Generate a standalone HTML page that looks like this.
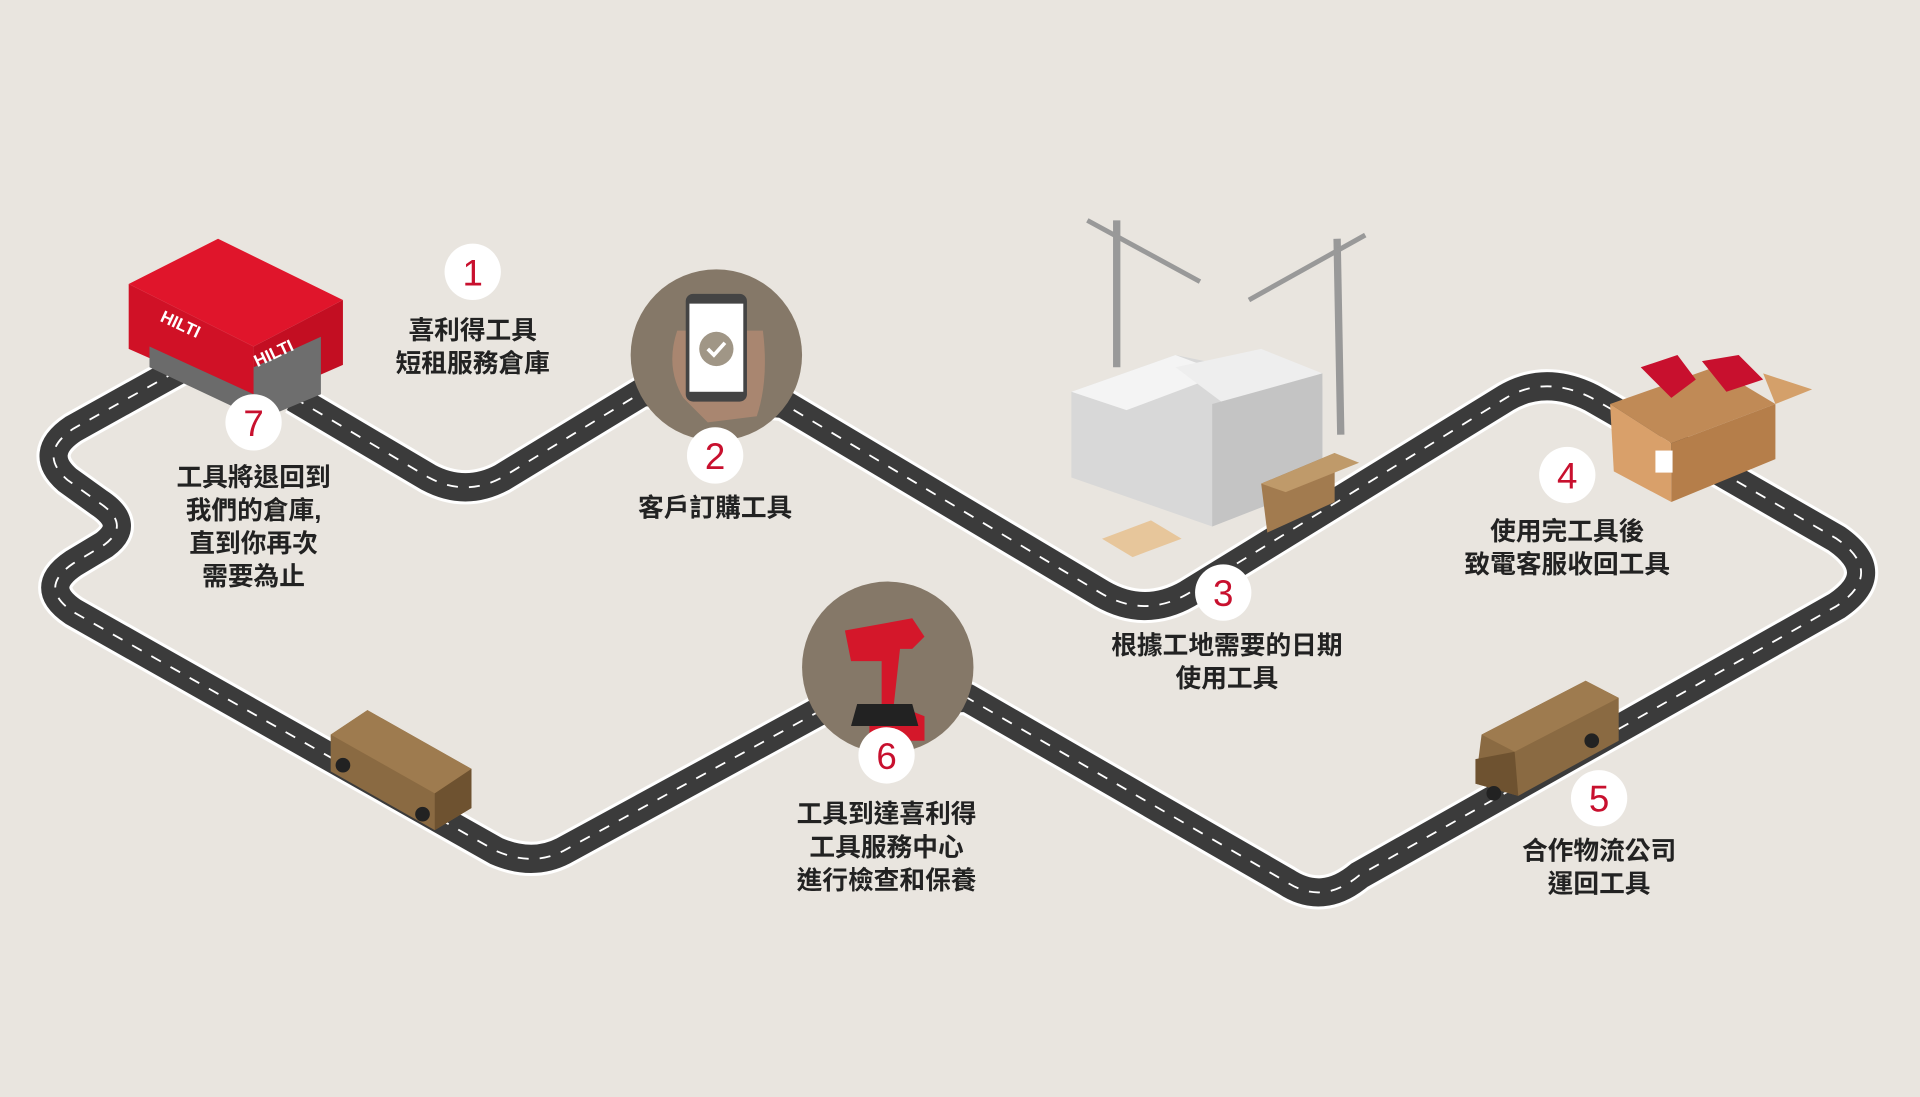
<!DOCTYPE html>
<html><head><meta charset="utf-8"><style>
html,body{margin:0;padding:0;background:#e9e5df;}
svg{display:block}
text{font-family:"Liberation Sans","Noto Sans CJK TC",sans-serif;}
.l{font-size:21px;font-weight:bold;fill:#222;text-anchor:middle}
.n{font-size:30px;fill:#c8102e;text-anchor:middle}
</style></head><body>
<svg width="1920" height="1097" viewBox="0 0 1568 896" xmlns="http://www.w3.org/2000/svg">
<rect width="1568" height="896" fill="#e9e5df"/>
<defs>
<path id="road" d="M240 325 L350 390 Q380 406 410 390 L525 320 L640 330 L900 485 Q935 505 970 485 L1230 325 Q1262 306 1300 325 L1500 440 Q1540 468 1500 495 L1110 715 Q1080 740 1050 720 L790 570 L680 575 L460 695 Q435 708 405 695 L60 500 Q30 480 60 460 L85 445 Q108 428 80 410 L55 392 Q30 370 60 350 L150 300"/>
</defs>
<use href="#road" fill="none" stroke="#fff" stroke-width="28" stroke-linejoin="round"/>
<use href="#road" fill="none" stroke="#3b3b3b" stroke-width="23" stroke-linejoin="round"/>
<use href="#road" fill="none" stroke="#fff" stroke-width="1.5" stroke-dasharray="9 9"/>

<!-- warehouse -->
<polygon points="105,232 178,195 280,245 207,283" fill="#e0152b"/>
<polygon points="105,232 207,283 207,330 105,285" fill="#d01126"/>
<polygon points="207,283 280,245 280,298 207,330" fill="#c30e22"/>
<polygon points="122,283 207,322 207,340 122,300" fill="#6b6b6b"/>
<polygon points="207,300 262,275 262,322 207,345" fill="#6e6e6e"/>
<text x="130" y="262" font-size="14" font-weight="bold" fill="#fff" transform="rotate(25 130 262)">HILTI</text>
<text x="210" y="300" font-size="14" font-weight="bold" fill="#fff" transform="rotate(-25 210 300)">HILTI</text>

<!-- circle 2 -->
<circle cx="585" cy="290" r="70" fill="#857868"/>
<path d="M553 270 q-10 30 5 55 l20 20 l40 -5 q10 -30 5 -70" fill="#a98670"/>
<rect x="560" y="240" width="50" height="88" rx="6" fill="#444"/>
<rect x="563" y="248" width="44" height="72" fill="#fff"/>
<circle cx="585" cy="285" r="14" fill="#a09686"/>
<path d="M578 285 l5 5 l9 -10" stroke="#fff" stroke-width="3" fill="none"/>

<!-- circle 6 -->
<circle cx="725" cy="545" r="70" fill="#857868"/>
<path d="M690 515 l55 -10 l10 15 l-10 10 l-10 0 l-5 45 l25 10 l0 20 l-45 0 l0 -20 l10 -5 l0 -40 l-25 0z" fill="#d4172a"/>
<path d="M700 575 l45 0 l5 18 l-55 0z" fill="#222"/>

<!-- construction -->
<polygon points="875,320 960,290 1080,315 1080,395 990,430 875,390" fill="#d8d8d8"/>
<polygon points="875,320 960,290 1000,305 920,335" fill="#f4f4f4"/>
<polygon points="960,300 1030,285 1080,305 1000,330" fill="#eeeeee"/>
<polygon points="990,330 1080,305 1080,395 990,430" fill="#c4c4c4"/>
<line x1="912" y1="180" x2="912" y2="300" stroke="#999" stroke-width="6"/>
<line x1="888" y1="180" x2="980" y2="230" stroke="#999" stroke-width="4"/>
<line x1="1092" y1="195" x2="1095" y2="355" stroke="#999" stroke-width="6"/>
<line x1="1020" y1="245" x2="1115" y2="192" stroke="#999" stroke-width="4"/>
<polygon points="1030,395 1090,370 1090,410 1035,435" fill="#a27b4f"/>
<polygon points="1030,395 1090,370 1110,378 1050,402" fill="#bf9a6a"/>
<polygon points="900,440 940,425 965,440 925,455" fill="#e7c69b"/>

<!-- box 4 -->
<polygon points="1315,330 1400,300 1450,330 1365,362" fill="#c08a56"/>
<polygon points="1315,330 1365,362 1365,410 1318,385" fill="#d9a06a"/>
<polygon points="1365,362 1450,330 1450,375 1365,410" fill="#b57e4a"/>
<path d="M1340 300 l30 -10 l15 20 l-20 15z M1390 295 l30 -5 l20 20 l-30 10z" fill="#c8102e"/>
<polygon points="1450,330 1480,318 1440,305" fill="#d4a06a"/>
<rect x="1352" y="368" width="14" height="18" fill="#fff"/>

<!-- trucks -->
<g>
<polygon points="270,600 300,580 385,628 385,660 355,678 270,630" fill="#8a6a42"/>
<polygon points="270,600 300,580 385,628 355,648" fill="#9e7b4f"/>
<polygon points="355,648 385,628 385,660 355,678" fill="#6e5230"/>
<circle cx="280" cy="625" r="6" fill="#222"/><circle cx="345" cy="665" r="6" fill="#222"/>
</g>
<g>
<polygon points="1210,600 1295,556 1322,570 1322,605 1240,650 1205,640" fill="#8a6a42"/>
<polygon points="1210,600 1295,556 1322,570 1237,614" fill="#9e7b4f"/>
<polygon points="1205,620 1237,614 1240,650 1205,640" fill="#6e5230"/>
<circle cx="1220" cy="648" r="6" fill="#222"/><circle cx="1300" cy="605" r="6" fill="#222"/>
</g>

<!-- badges -->
<g fill="#fff">
<circle cx="386" cy="222" r="23"/><circle cx="584" cy="372" r="23"/><circle cx="999" cy="484" r="23"/>
<circle cx="1280" cy="388" r="23"/><circle cx="1306" cy="652" r="23"/><circle cx="724" cy="617" r="23"/><circle cx="207" cy="345" r="23"/>
</g>
<text class="n" x="386" y="233">1</text><text class="n" x="584" y="383">2</text><text class="n" x="999" y="495">3</text>
<text class="n" x="1280" y="399">4</text><text class="n" x="1306" y="663">5</text><text class="n" x="724" y="628">6</text><text class="n" x="207" y="356">7</text>

<!-- labels -->
<text class="l" x="386" y="277">喜利得工具</text><text class="l" x="386" y="304">短租服務倉庫</text>
<text class="l" x="584" y="422">客戶訂購工具</text>
<text class="l" x="1002" y="534">根據工地需要的日期</text><text class="l" x="1002" y="561">使用工具</text>
<text class="l" x="1280" y="441">使用完工具後</text><text class="l" x="1280" y="468">致電客服收回工具</text>
<text class="l" x="1306" y="702">合作物流公司</text><text class="l" x="1306" y="729">運回工具</text>
<text class="l" x="724" y="672">工具到達喜利得</text><text class="l" x="724" y="699">工具服務中心</text><text class="l" x="724" y="726">進行檢查和保養</text>
<text class="l" x="207" y="397">工具將退回到</text><text class="l" x="207" y="424">我們的倉庫,</text><text class="l" x="207" y="451">直到你再次</text><text class="l" x="207" y="478">需要為止</text>
</svg>
</body></html>
